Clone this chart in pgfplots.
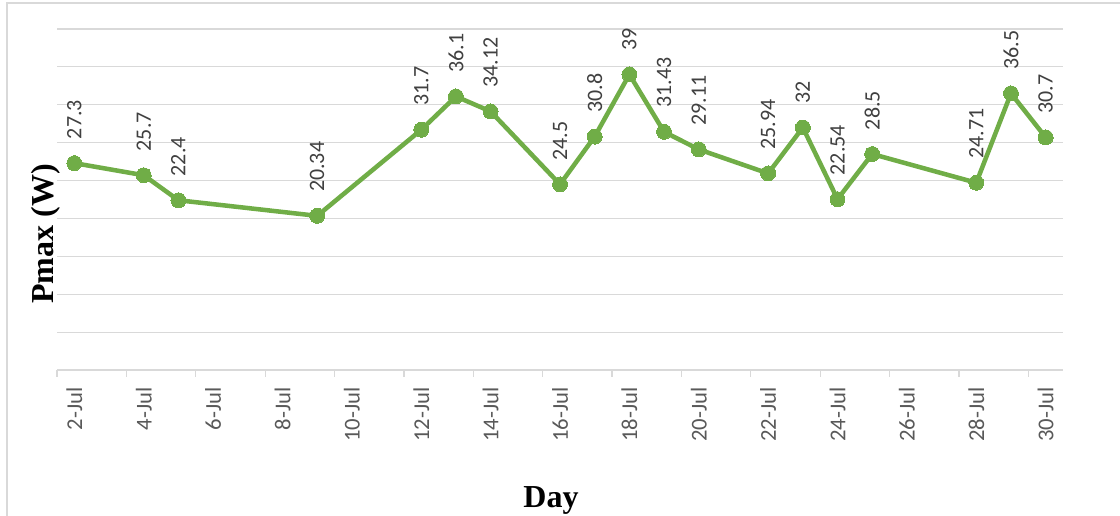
\documentclass[border=0pt]{standalone}
\usepackage{pgfplots}
\pgfplotsset{compat=1.18}
\usepackage{fontspec}
\setmainfont{Liberation Serif}
\newfontfamily\calibri{Carlito}
\definecolor{linegreen}{HTML}{70AD47}
\definecolor{gridgray}{HTML}{D9D9D9}
\definecolor{ticktext}{HTML}{595959}
\definecolor{labeltext}{HTML}{404040}

\begin{document}
\begin{tikzpicture}
\begin{axis}[
  at={(0,0)}, anchor=south west,
  scale only axis, width=754.5pt, height=255.75pt,
  xmin=1.5, xmax=30.5, ymin=0, ymax=45,
  clip=false,
  axis x line*=bottom, axis y line*=left,
  y axis line style={draw=none},
  x axis line style={gridgray, line width=0.9pt, -},
  ytick={0,5,...,45}, yticklabels={},
  ymajorgrids,
  major grid style={gridgray, line width=0.9pt},
  major tick length=0pt,
  xtick={2,4,...,30},
  xticklabels={2-Jul,4-Jul,6-Jul,8-Jul,10-Jul,12-Jul,14-Jul,16-Jul,18-Jul,20-Jul,22-Jul,24-Jul,26-Jul,28-Jul,30-Jul},
  minor xtick={1.5,3.5,...,29.5},
  minor x tick style={gridgray, line width=0.9pt},
  minor tick length=5.25pt,
  tick align=outside,
  xticklabel style={rotate=90, anchor=east, inner sep=0pt,
    font=\calibri\fontsize{17}{17}\selectfont, text=ticktext},
  xticklabel shift=12.75pt,
  every node near coord/.append style={rotate=90, anchor=west,
    inner xsep=18pt, inner ysep=0pt,
    font=\calibri\fontsize{16.5}{16.5}\selectfont, text=labeltext},
]
\addplot[linegreen, line width=3.4pt, line join=round,
  mark=*, mark size=5.6pt,
  mark options={fill=linegreen, draw=linegreen, line width=0pt},
  nodes near coords, point meta=explicit symbolic]
  table[x=day, y=pmax, meta=lbl] {
day pmax  lbl
2   27.3  27.3
4   25.7  25.7
5   22.4  22.4
9   20.34 20.34
12  31.7  31.7
13  36.1  36.1
14  34.12 34.12
16  24.5  24.5
17  30.8  30.8
18  39    39
19  31.43 31.43
20  29.11 29.11
22  25.94 25.94
23  32    32
24  22.54 22.54
25  28.5  28.5
28  24.71 24.71
29  36.5  36.5
30  30.7  30.7
};
\end{axis}
\node[rotate=90, font=\bfseries\fontsize{24}{24}\selectfont] at (-8.25pt,102pt) {Pmax (W)};
\node[anchor=base, font=\bfseries\fontsize{24}{24}\selectfont] at (370.5pt,-103.5pt) {Day};
\draw[gridgray, line width=1pt] (-37.5pt,-150pt) -- (-37.5pt,275.25pt) -- (850pt,275.25pt);
\pgfresetboundingbox
\path[use as bounding box] (-42.75pt,-109.5pt) rectangle (797.25pt,277.5pt);
\end{tikzpicture}
\end{document}
